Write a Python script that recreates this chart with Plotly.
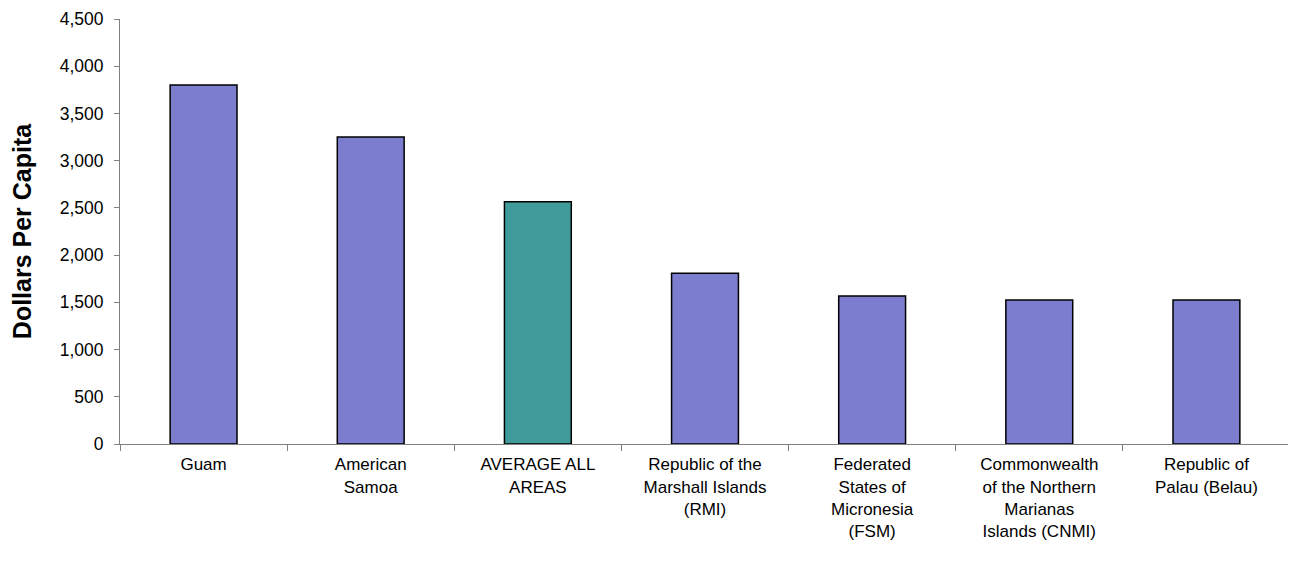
import plotly.graph_objects as go

categories = [
    "Guam",
    "American<br>Samoa",
    "AVERAGE ALL<br>AREAS",
    "Republic of the<br>Marshall Islands<br>(RMI)",
    "Federated<br>States of<br>Micronesia<br>(FSM)",
    "Commonwealth<br>of the Northern<br>Marianas<br>Islands (CNMI)",
    "Republic of<br>Palau (Belau)",
]
values = [3800, 3250, 2565, 1808, 1566, 1524, 1524]
bar_colors = ["#7d7dcf", "#7d7dcf", "#429b9b", "#7d7dcf", "#7d7dcf", "#7d7dcf", "#7d7dcf"]

y_ticks = [0, 500, 1000, 1500, 2000, 2500, 3000, 3500, 4000, 4500]

fig = go.Figure(
    go.Bar(
        x=categories,
        y=values,
        marker=dict(color=bar_colors, line=dict(color="#000000", width=1.5)),
        width=0.4,
    )
)

fig.update_layout(
    width=1296,
    height=579,
    margin=dict(l=112, r=14, t=11, b=143),
    paper_bgcolor="white",
    plot_bgcolor="white",
    font=dict(family="Liberation Sans, Arial, sans-serif", size=17, color="#000000"),
    showlegend=False,
)

fig.update_xaxes(
    showline=True,
    linecolor="#808080",
    linewidth=1,
    ticks="outside",
    tickson="boundaries",
    ticklen=6,
    tickcolor="#808080",
    ticklabelstandoff=5,
    tickangle=0,
    showgrid=False,
    automargin=False,
    tickfont=dict(size=17),
)

fig.update_yaxes(
    range=[0, 4500],
    tickvals=y_ticks,
    ticktext=[f"{v:,}" for v in y_ticks],
    showline=True,
    linecolor="#808080",
    linewidth=1,
    ticks="outside",
    ticklen=5,
    tickcolor="#808080",
    ticklabelstandoff=7,
    ticklabeloverflow="allow",
    showgrid=False,
    zeroline=False,
    automargin=False,
    tickfont=dict(size=17.5),
    title=dict(text="<b>Dollars Per Capita</b>", font=dict(size=25), standoff=20),
)

fig.write_html("out.html")
